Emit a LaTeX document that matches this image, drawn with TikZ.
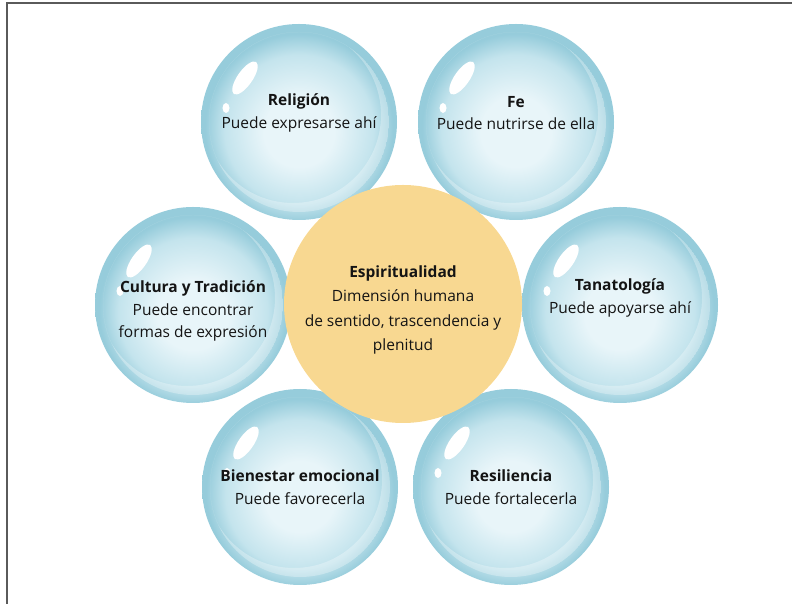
\documentclass[tikz,border=0pt]{standalone}
\usepackage{fontspec}
\setmainfont{Open Sans}

\definecolor{bubbleedge}{RGB}{150,204,219}
\definecolor{bubblemid}{RGB}{196,228,237}
\definecolor{bubblecore}{RGB}{232,245,249}
\definecolor{coreyellow}{RGB}{248,216,145}
\definecolor{textdark}{RGB}{20,20,20}
\definecolor{framegray}{RGB}{90,90,90}

\pgfdeclareradialshading{bubbleshade}{\pgfpoint{0bp}{-3bp}}{%
  color(0bp)=(bubblecore); color(9bp)=(bubblecore);
  color(19bp)=(bubblemid); color(24bp)=(bubbleedge); color(50bp)=(bubbleedge)}

\tikzset{
  bubble/.style={circle, minimum size=196pt, inner sep=0pt, shading=bubbleshade},
  glare/.style={white},
  reflex/.style={white, opacity=.3, even odd rule},
  core/.style={circle, minimum size=238pt, inner sep=0pt, fill=coreyellow},
  caption/.style={align=center, text=textdark, font=\fontsize{15.5}{22.5}\selectfont}
}

\begin{document}
\begin{tikzpicture}[x=1pt, y=1pt]
	\useasboundingbox (0,0) rectangle (792,604);
	\draw[framegray, line width=1.2pt] (7,0) -- (7,601) -- (792,601);

	% blue bubbles
	\foreach \n/\x/\y in {religion/299/482, fe/516/482, cultura/193/299,
	                      tanatologia/620/299, bienestar/300/117, resiliencia/511/117} {
		\node[bubble] (\n) at (\x,\y) {};
		\begin{scope}[shift={(\x,\y)}]
			\fill[glare, rotate around={-35:(-54,44)}] (-54,44) ellipse (7.5 and 19.5);
			\fill[glare] (-73,14) ellipse (3.5 and 5);
			\begin{scope}
				\clip (0,0) circle (90);
				\fill[reflex] (0,0) circle (90) (-6,7) circle (88);
			\end{scope}
		\end{scope}
	}
	\node[core] (espiritualidad) at (403,300) {};

	\node[caption] (religion-txt) at ([yshift=9pt]religion) {\textbf{Religión}\\Puede expresarse ahí};
	\node[caption] (fe-txt) at ([yshift=9pt]fe) {\textbf{Fe}\\Puede nutrirse de ella};
	\node[caption] (cultura-txt) at ([yshift=-6pt]cultura) {\textbf{Cultura y Tradición}\\Puede encontrar\\formas de expresión};
	\node[caption] (tanatologia-txt) at ([yshift=7pt]tanatologia) {\textbf{Tanatología}\\Puede apoyarse ahí};
	\node[caption] (bienestar-txt) at (bienestar) {\textbf{Bienestar emocional}\\Puede favorecerla};
	\node[caption] (resiliencia-txt) at (resiliencia) {\textbf{Resiliencia}\\Puede fortalecerla};
	\node[caption, font=\fontsize{15.5}{24.5}\selectfont] (espiritualidad-txt) at ([yshift=-6pt]espiritualidad) {\textbf{Espiritualidad}\\Dimensión humana\\de sentido, trascendencia y\\plenitud};
\end{tikzpicture}
\end{document}
